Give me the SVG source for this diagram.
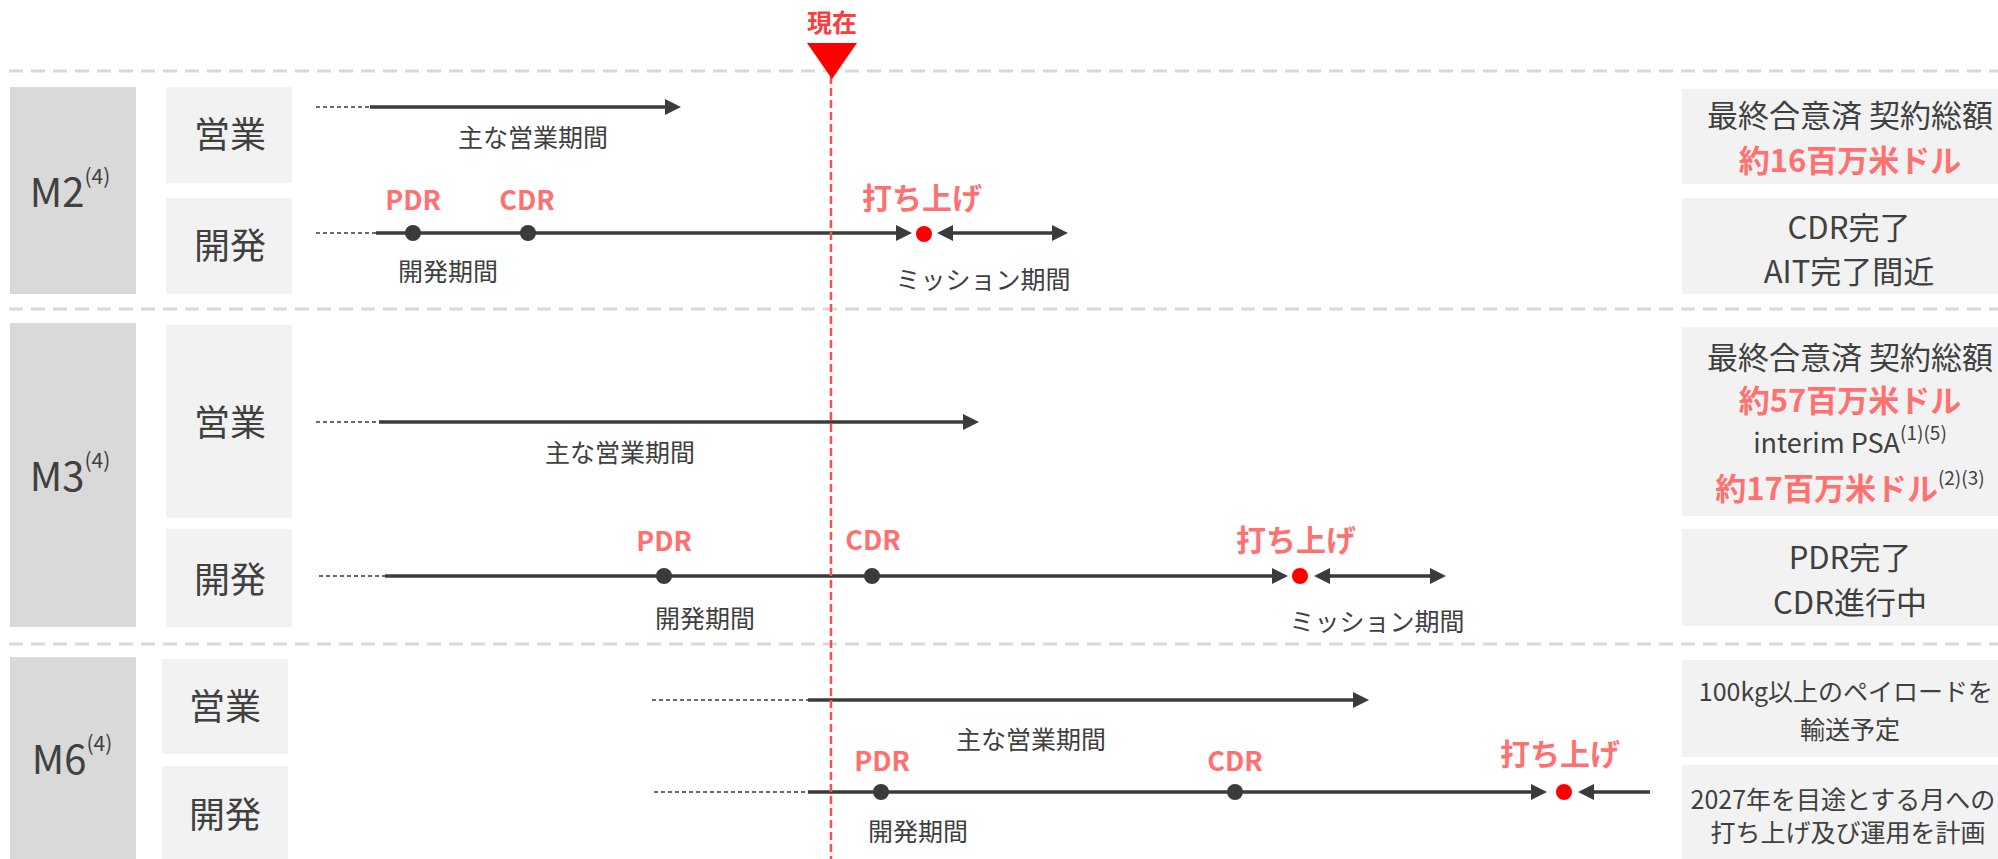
<svg xmlns="http://www.w3.org/2000/svg" width="1998" height="859" viewBox="0 0 1998 859">
<style>
text{font-family:"Noto Sans CJK JP","Noto Sans",sans-serif;fill:#404040}
.lab{font-size:36px;text-anchor:middle;dominant-baseline:central}
.mname{font-size:40px;text-anchor:middle;dominant-baseline:central}
.sup{font-size:21px}
.sm{font-size:25px;text-anchor:middle;dominant-baseline:central}
.ms{font-size:27px;font-weight:bold;fill:#ff7171;text-anchor:middle;dominant-baseline:central}
.la{font-size:30px;font-weight:bold;fill:#ff7171;text-anchor:middle;dominant-baseline:central}
.rt{font-size:31px;text-anchor:middle;dominant-baseline:central}
.rr{font-size:31px;font-weight:bold;fill:#ff7171}
.rs{font-size:25px;text-anchor:middle;dominant-baseline:central}
.mbox{fill:#d9d9d9}
.sbox{fill:#f2f2f2}
.sep{stroke:#d9d9d9;stroke-width:3;stroke-dasharray:14 8;fill:none}
.lead{stroke:#3b3b3b;stroke-width:1.6;stroke-dasharray:4 3;fill:none}
.ln{stroke:#3b3b3b;stroke-width:3.5;fill:none}
.arr{marker-end:url(#ah)}
.dbl{marker-start:url(#ah);marker-end:url(#ah)}
.dot{fill:#3b3b3b}
.rdot{fill:#ff0000}
</style>
<defs>
<marker id="ah" viewBox="0 0 16 16" refX="8" refY="8" markerWidth="16" markerHeight="16" markerUnits="userSpaceOnUse" orient="auto-start-reverse">
<path d="M0,0 L16,8 L0,16 z" fill="#3b3b3b"/>
</marker>
</defs>

<g id="separators">
<line class="sep" x1="9" y1="71" x2="1998" y2="71"/>
<line class="sep" x1="9" y1="309" x2="1998" y2="309"/>
<line class="sep" x1="9" y1="644" x2="1998" y2="644"/>
</g>

<g id="m2">
<rect class="mbox" x="10" y="87" width="126" height="207"/>
<text class="mname" x="70" y="190">M2<tspan class="sup" dy="-15">(4)</tspan></text>
<rect class="sbox" x="166" y="87" width="126" height="96"/>
<text class="lab" x="230" y="132">営業</text>
<rect class="sbox" x="166" y="198" width="126" height="96"/>
<text class="lab" x="230" y="243">開発</text>
<rect class="sbox" x="1682" y="89" width="330" height="95"/>
<text class="rt" x="1850" y="113">最終合意済 契約総額</text>
<text class="rt" x="1850" y="158"><tspan class="rr">約16百万米ドル</tspan></text>
<rect class="sbox" x="1682" y="198" width="330" height="96"/>
<text class="rt" x="1849" y="225">CDR完了</text>
<text class="rt" x="1849" y="269">AIT完了間近</text>
</g>

<g id="m3">
<rect class="mbox" x="10" y="323" width="126" height="304"/>
<text class="mname" x="70" y="474">M3<tspan class="sup" dy="-15">(4)</tspan></text>
<rect class="sbox" x="166" y="325" width="126" height="193"/>
<text class="lab" x="230" y="420">営業</text>
<rect class="sbox" x="166" y="529" width="126" height="98"/>
<text class="lab" x="230" y="577">開発</text>
<rect class="sbox" x="1682" y="327" width="330" height="189"/>
<text class="rt" x="1850" y="355">最終合意済 契約総額</text>
<text class="rt" x="1850" y="398"><tspan class="rr">約57百万米ドル</tspan></text>
<text class="rt" x="1850" y="441" style="font-size:27px">interim PSA<tspan class="sup" dy="-10" style="font-size:19px">(1)(5)</tspan></text>
<text class="rt" x="1850" y="486"><tspan class="rr">約17百万米ドル</tspan><tspan class="sup" dy="-10" style="font-size:19px">(2)(3)</tspan></text>
<rect class="sbox" x="1682" y="529" width="330" height="97"/>
<text class="rt" x="1850" y="555">PDR完了</text>
<text class="rt" x="1850" y="600">CDR進行中</text>
</g>

<g id="m6">
<rect class="mbox" x="10" y="657" width="126" height="202"/>
<text class="mname" x="72" y="757">M6<tspan class="sup" dy="-15">(4)</tspan></text>
<rect class="sbox" x="162" y="659" width="126" height="95"/>
<text class="lab" x="225" y="704">営業</text>
<rect class="sbox" x="162" y="766" width="126" height="93"/>
<text class="lab" x="225" y="812">開発</text>
<rect class="sbox" x="1682" y="660" width="330" height="97"/>
<text class="rs" x="1846" y="690">100kg以上のペイロードを</text>
<text class="rs" x="1850" y="728">輸送予定</text>
<rect class="sbox" x="1682" y="765" width="330" height="94"/>
<text class="rs" x="1843" y="798">2027年を目途とする月への</text>
<text class="rs" x="1848" y="831">打ち上げ及び運用を計画</text>
</g>

<g id="connectors">
<line class="lead" x1="316" y1="107" x2="370" y2="107"/>
<line class="ln arr" x1="370" y1="107" x2="673" y2="107"/>
<line class="lead" x1="316" y1="233" x2="376" y2="233"/>
<line class="ln arr" x1="376" y1="233" x2="904" y2="233"/>
<line class="ln dbl" x1="945" y1="233" x2="1060" y2="233"/>
<line class="lead" x1="316" y1="422" x2="379" y2="422"/>
<line class="ln arr" x1="379" y1="422" x2="971" y2="422"/>
<line class="lead" x1="319" y1="576" x2="385" y2="576"/>
<line class="ln arr" x1="385" y1="576" x2="1280" y2="576"/>
<line class="ln dbl" x1="1322" y1="576" x2="1438" y2="576"/>
<line class="lead" x1="652" y1="700" x2="808" y2="700"/>
<line class="ln arr" x1="808" y1="700" x2="1361" y2="700"/>
<line class="lead" x1="654" y1="792" x2="808" y2="792"/>
<line class="ln arr" x1="808" y1="792" x2="1539" y2="792"/>
<line class="ln arr" x1="1650" y1="792" x2="1586" y2="792"/>
</g>

<g id="milestones">
<circle class="dot" cx="413" cy="233" r="8"/>
<circle class="dot" cx="528" cy="233" r="8"/>
<ellipse class="rdot" cx="924" cy="234" rx="8" ry="8"/>
<text class="ms" x="413" y="198">PDR</text>
<text class="ms" x="527" y="198">CDR</text>
<text class="la" x="922" y="196">打ち上げ</text>
<text class="sm" x="533" y="136">主な営業期間</text>
<text class="sm" x="448" y="270">開発期間</text>
<text class="sm" x="983" y="278">ミッション期間</text>

<circle class="dot" cx="664" cy="576" r="8"/>
<circle class="dot" cx="872" cy="576" r="8"/>
<ellipse class="rdot" cx="1300" cy="576" rx="8" ry="8"/>
<text class="ms" x="664" y="539">PDR</text>
<text class="ms" x="873" y="538">CDR</text>
<text class="la" x="1296" y="538">打ち上げ</text>
<text class="sm" x="620" y="451">主な営業期間</text>
<text class="sm" x="705" y="617">開発期間</text>
<text class="sm" x="1377" y="620">ミッション期間</text>

<circle class="dot" cx="881" cy="792" r="8"/>
<circle class="dot" cx="1235" cy="792" r="8"/>
<ellipse class="rdot" cx="1564" cy="792" rx="8" ry="8"/>
<text class="ms" x="882" y="759">PDR</text>
<text class="ms" x="1235" y="759">CDR</text>
<text class="la" x="1560" y="752">打ち上げ</text>
<text class="sm" x="1031" y="738">主な営業期間</text>
<text class="sm" x="918" y="830">開発期間</text>
</g>

<g id="now">
<line x1="831" y1="76" x2="831" y2="859" stroke="#ff4d4d" stroke-width="2.5" stroke-dasharray="8 4"/>
<polygon points="807,43 857,43 832,79" fill="#ff0000"/>
<text x="832" y="21" style="font-size:25px;font-weight:bold;fill:#ff3b3b;text-anchor:middle;dominant-baseline:central">現在</text>
</g>
</svg>
